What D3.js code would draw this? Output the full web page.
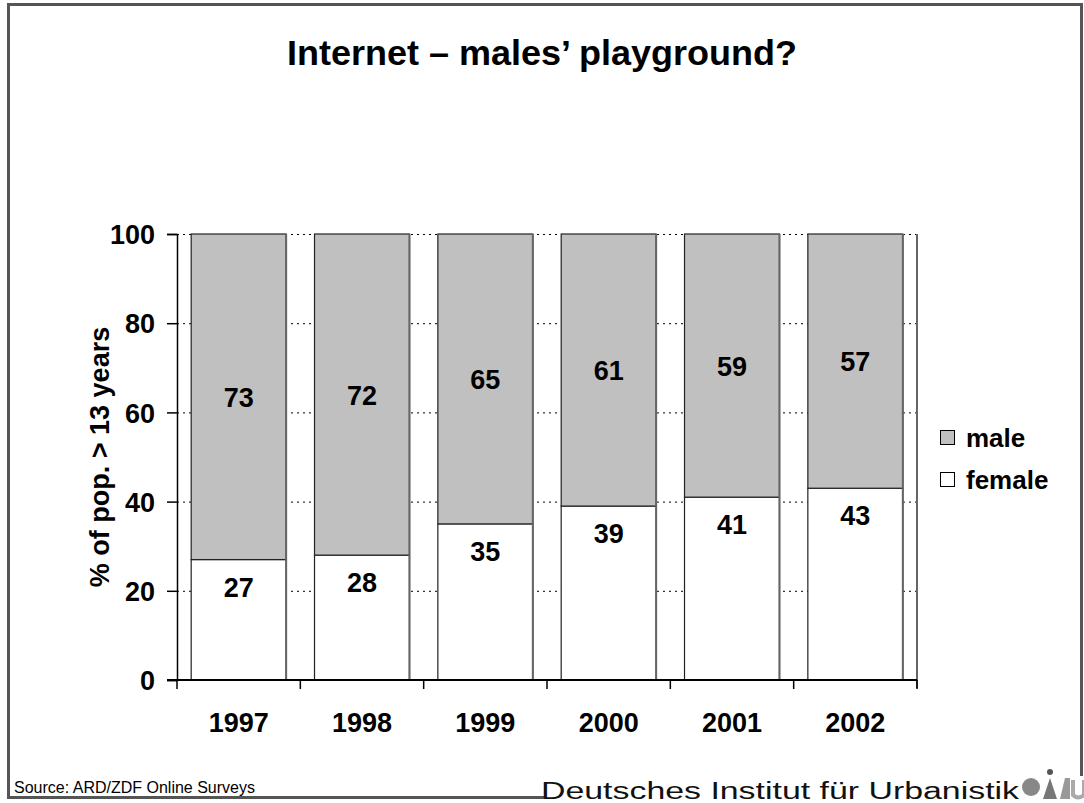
<!DOCTYPE html>
<html><head><meta charset="utf-8">
<script src="https://cdn.jsdelivr.net/npm/d3@7"></script>
<style>body{margin:0;background:#fff}svg{display:block}text{font-family:"Liberation Sans",Arial,sans-serif}</style>
</head><body>
<script>
const years = ["1997","1998","1999","2000","2001","2002"];
const female = [27,28,35,39,41,43];
const male = [73,72,65,61,59,57];
const yTicks = [0,20,40,60,80,100];
const seriesNames = ["male","female"];
const seriesColors = ["#c0c0c0","#ffffff"];

const W=1084,H=803;
const svg=d3.select("body").append("svg").attr("width",W).attr("height",H);
const L=177,R=917,T=234,B=680;
const x=d3.scaleBand().domain(years).range([L,R]).paddingInner(0.23).paddingOuter(0.115);
const y=d3.scaleLinear().domain([0,100]).range([B,T]);

// frame
svg.append("path").attr("d",`M544,797.5 L8.5,797.5 L8.5,4.5 L1081.5,4.5 L1081.5,776`)
  .attr("fill","none").attr("stroke","#555").attr("stroke-width",3);

// title
svg.append("text").attr("x",542).attr("y",65).attr("text-anchor","middle")
  .attr("font-size",35).attr("font-weight","bold")
  .attr("textLength",510).attr("lengthAdjust","spacingAndGlyphs").text("Internet – males’ playground?");

// gridlines
svg.append("g").selectAll("line").data(yTicks.filter(d=>d>0)).join("line")
  .attr("x1",L).attr("x2",R).attr("y1",d=>y(d)+0.5).attr("y2",d=>y(d)+0.5)
  .attr("stroke","#000").attr("stroke-dasharray","2,4");

// bars
const g=svg.append("g");
years.forEach((yr,i)=>{
  const bx=x(yr), bw=x.bandwidth();
  g.append("rect").attr("x",bx).attr("y",y(female[i])).attr("width",bw).attr("height",y(0)-y(female[i]))
    .attr("fill",seriesColors[1]).attr("stroke","#222").attr("stroke-width",1.2);
  g.append("rect").attr("x",bx).attr("y",y(100)).attr("width",bw).attr("height",y(female[i])-y(100))
    .attr("fill",seriesColors[0]).attr("stroke","#222").attr("stroke-width",1.2);
  g.append("line").attr("x1",bx+bw).attr("x2",bx+bw).attr("y1",y(100)).attr("y2",y(0))
    .attr("stroke","#666").attr("stroke-width",2);
  g.append("text").attr("x",bx+bw/2).attr("y",(y(100)+y(female[i]))/2+10).attr("text-anchor","middle")
    .attr("font-size",27).attr("font-weight","bold").text(male[i]);
  g.append("text").attr("x",bx+bw/2).attr("y",y(female[i])+37).attr("text-anchor","middle")
    .attr("font-size",27).attr("font-weight","bold").text(female[i]);
});

// right border line
svg.append("line").attr("x1",R).attr("x2",R).attr("y1",T).attr("y2",B+8).attr("stroke","#666").attr("stroke-width",2);

// y axis
const ya=svg.append("g").attr("transform",`translate(${L},0)`)
  .call(d3.axisLeft(y).tickValues(yTicks).tickSize(10).tickPadding(12));
ya.select(".domain").attr("stroke","#000").attr("stroke-width",1.5);
ya.selectAll(".tick line").attr("stroke","#000").attr("stroke-width",1.5);
ya.selectAll("text").attr("font-size",27).attr("font-weight","bold").attr("fill","#000").attr("dy","0.36em")
  .style("font-family","'Liberation Sans',Arial,sans-serif");

// x axis
svg.append("line").attr("x1",L-10).attr("x2",R).attr("y1",B).attr("y2",B).attr("stroke","#000").attr("stroke-width",2);
const bounds=years.map(d=>x(d)-x.step()*0.115).concat([R]);
svg.append("g").selectAll("line").data(bounds).join("line")
  .attr("x1",d=>d).attr("x2",d=>d).attr("y1",B).attr("y2",B+9).attr("stroke","#000").attr("stroke-width",1.5);
svg.append("g").selectAll("text").data(years).join("text")
  .attr("x",d=>x(d)+x.bandwidth()/2).attr("y",732).attr("text-anchor","middle")
  .attr("font-size",27).attr("font-weight","bold").text(d=>d);

// y title
svg.append("text").attr("transform",`translate(109,${(T+B)/2}) rotate(-90)`).attr("text-anchor","middle")
  .attr("font-size",27).attr("font-weight","bold").text("% of pop. > 13 years");

// legend
seriesNames.forEach((n,i)=>{
  const ly=438+i*42;
  svg.append("rect").attr("x",940.5).attr("y",ly-7.5).attr("width",14).attr("height",14)
    .attr("fill",seriesColors[i]).attr("stroke","#000").attr("stroke-width",1);
  svg.append("text").attr("x",966).attr("y",ly+9).attr("font-size",26).attr("font-weight","bold").text(n);
});

// footer
svg.append("text").attr("x",14).attr("y",793).attr("font-size",16).text("Source: ARD/ZDF Online Surveys");
svg.append("text").attr("x",541).attr("y",799).attr("font-size",23).attr("fill","#111")
  .attr("textLength",478).attr("lengthAdjust","spacingAndGlyphs").text("Deutsches Institut für Urbanistik");
// logo
svg.append("circle").attr("cx",1031).attr("cy",787).attr("r",9).attr("fill","#888");
svg.append("path").attr("d","M1043,799 L1050,778 L1057,799 Z").attr("fill","#777");
svg.append("circle").attr("cx",1050).attr("cy",772).attr("r",3).attr("fill","#555");
svg.append("path").attr("d","M1060,799 L1065,778 L1070,778 L1070,799 Z").attr("fill","#999");
svg.append("path").attr("d","M1073,780 L1073,795 Q1078,800 1084,795 L1084,780").attr("fill","none").attr("stroke","#aaa").attr("stroke-width",4);
</script>
</body></html>
